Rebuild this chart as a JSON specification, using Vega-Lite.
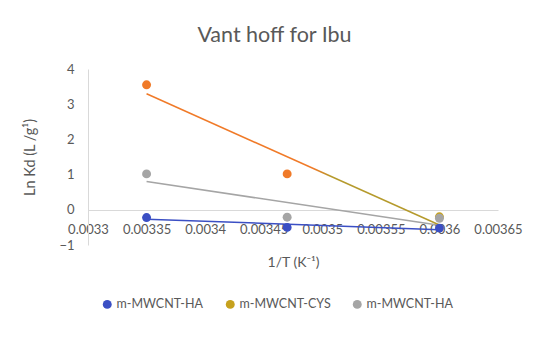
{
  "$schema": "https://vega.github.io/schema/vega-lite/v6.json",
  "width": 410,
  "height": 176,
  "autosize": "none",
  "padding": {"left": 88, "top": 69, "right": 52, "bottom": 93},
  "background": "white",
  "config": {"view": {"stroke": null}, "font": "Lato"},
  "title": {"text": "Vant hoff for Ibu", "font": "Lato", "fontSize": 21.5, "fontWeight": "normal", "color": "#595959", "anchor": "middle", "frame": "group", "dx": -18.5, "offset": 17},
  "data": {"values": [
    {"series": "m-MWCNT-HA", "invT": 0.00335, "lnKd": -0.22},
    {"series": "m-MWCNT-HA", "invT": 0.00347, "lnKd": -0.5},
    {"series": "m-MWCNT-HA", "invT": 0.0036, "lnKd": -0.52},
    {"series": "m-MWCNT-CYS", "invT": 0.00335, "lnKd": 3.55},
    {"series": "m-MWCNT-CYS", "invT": 0.00347, "lnKd": 1.02},
    {"series": "m-MWCNT-CYS", "invT": 0.0036, "lnKd": -0.2},
    {"series": "m-MWCNT-HA #2", "invT": 0.00335, "lnKd": 1.02},
    {"series": "m-MWCNT-HA #2", "invT": 0.00347, "lnKd": -0.21},
    {"series": "m-MWCNT-HA #2", "invT": 0.0036, "lnKd": -0.24}
  ]},
  "encoding": {
    "x": {"field": "invT", "type": "quantitative",
      "scale": {"domain": [0.0033, 0.00365], "zero": false, "nice": false},
      "axis": {"values": [0.0033, 0.00335, 0.0034, 0.00345, 0.0035, 0.00355, 0.0036, 0.00365], "format": "~g", "offset": -35, "grid": false, "ticks": false, "domainColor": "#D9D9D9", "domainWidth": 1, "labelPadding": 13, "labelFontSize": 13, "labelColor": "#595959", "labelFont": "Lato", "labelFlush": false, "labelOverlap": false, "title": "1/T (K⁻¹)", "titleFont": "Lato", "titleFontSize": 14, "titleFontWeight": "normal", "titleColor": "#595959", "titlePadding": 19}},
    "y": {"field": "lnKd", "type": "quantitative",
      "scale": {"domain": [-1, 4], "nice": false, "zero": false},
      "axis": {"values": [-1, 0, 1, 2, 3, 4], "grid": false, "ticks": false, "domainColor": "#D9D9D9", "domainWidth": 1, "labelPadding": 14, "labelFontSize": 13, "labelColor": "#595959", "labelFont": "Lato", "title": "Ln Kd (L /g¹)", "titleFont": "Lato", "titleFontSize": 14.5, "titleFontWeight": "normal", "titleColor": "#595959", "titlePadding": 21}}
  },
  "layer": [
    {
      "transform": [
        {"filter": "datum.series != 'm-MWCNT-CYS'"},
        {"regression": "lnKd", "on": "invT", "groupby": ["series"]}
      ],
      "mark": {"type": "line", "strokeWidth": 1.5},
      "encoding": {
        "color": {"field": "series", "type": "nominal",
          "scale": {"domain": ["m-MWCNT-HA", "m-MWCNT-CYS", "m-MWCNT-HA #2"], "range": ["#3B4FC4", "#C6A11E", "#A5A5A5"]}}
      }
    },
    {
      "transform": [
        {"filter": "datum.series == 'm-MWCNT-CYS'"},
        {"regression": "lnKd", "on": "invT"}
      ],
      "mark": {"type": "line", "strokeWidth": 1.5,
        "stroke": {"gradient": "linear", "x1": 0, "y1": 0, "x2": 1, "y2": 0,
          "stops": [{"offset": 0, "color": "#F07A28"}, {"offset": 0.57, "color": "#F07A28"}, {"offset": 0.63, "color": "#B59A2C"}, {"offset": 1, "color": "#B59A2C"}]}},
      "encoding": {}
    },
    {
      "mark": {"type": "point", "filled": true, "size": 80, "opacity": 1},
      "encoding": {
        "color": {"field": "series", "type": "nominal",
          "condition": {"test": "datum.series == 'm-MWCNT-CYS' && datum.invT < 0.0036", "value": "#F07A28"},
          "scale": {"domain": ["m-MWCNT-HA", "m-MWCNT-CYS", "m-MWCNT-HA #2"], "range": ["#3B4FC4", "#C6A11E", "#A5A5A5"]},
          "legend": {"orient": "none", "legendX": 13, "legendY": 229, "direction": "horizontal", "title": null, "symbolType": "circle", "symbolSize": 80, "symbolStrokeWidth": 0, "labelFont": "Lato", "labelFontSize": 12.5, "labelColor": "#595959", "columnPadding": 20, "labelOffset": 3, "padding": 0,
            "labelExpr": "replace(datum.label, ' #2', '')"}}
      }
    }
  ]
}
